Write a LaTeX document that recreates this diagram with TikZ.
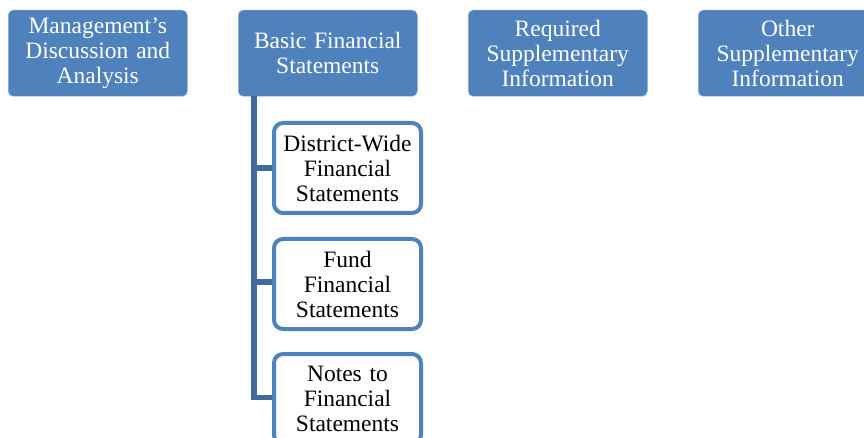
\documentclass[tikz,border=0pt]{standalone}
\usepackage{fontspec}
\setmainfont{Liberation Serif}
\definecolor{topblue}{HTML}{4F81BD}
\definecolor{linkblue}{HTML}{41699C}
\begin{document}
\begin{tikzpicture}[x=1pt,y=-1pt,
  topbox/.style={rounded corners=5pt, fill=topblue, draw=topblue!70!white, line width=0.5pt,
     minimum width=179pt, minimum height=86pt, text width=177pt, align=center,
     text=white, font=\fontsize{23.5}{25}\selectfont, anchor=north west, inner sep=0pt},
  childbox/.style={rounded corners=9pt, fill=white, draw=topblue, line width=4pt,
     minimum width=147pt, minimum height=90pt, text width=145pt, align=center,
     text=black, font=\fontsize{23.5}{25}\selectfont, anchor=north west, inner sep=0pt},
  link/.style={draw=linkblue, line width=5.5pt}]
\useasboundingbox (0,0) rectangle (864,438);
\begin{scope}
\clip (0,0) rectangle (864,438);
\node[topbox] (mda) at (8,10) {Management's\\Discussion and\\Analysis};
\node[topbox] (bfs) at (238,10) {Basic Financial\\Statements};
\node[topbox] (rsi) at (468,10) {Required\\Supplementary\\Information};
\node[topbox] (osi) at (698,10) {Other\\Supplementary\\Information};
\coordinate (top) at (254,96);
\coordinate (bot) at (254,400);
\coordinate (j1) at (254,168);
\coordinate (j2) at (254,282);
\coordinate (j3) at (254,397.25);
\draw[link] (top) -- (bot);
\node[childbox] (dw) at (272,121) {District-Wide\\Financial\\Statements};
\node[childbox] (fund) at (272,237) {Fund\\Financial\\Statements};
\node[childbox] (notes) at (272,352) {Notes to\\Financial\\Statements};
\draw[link] (j1) -- (j1 -| dw.west);
\draw[link] (j2) -- (j2 -| fund.west);
\draw[link] (j3) -- (j3 -| notes.west);
\end{scope}
\end{tikzpicture}
\end{document}
